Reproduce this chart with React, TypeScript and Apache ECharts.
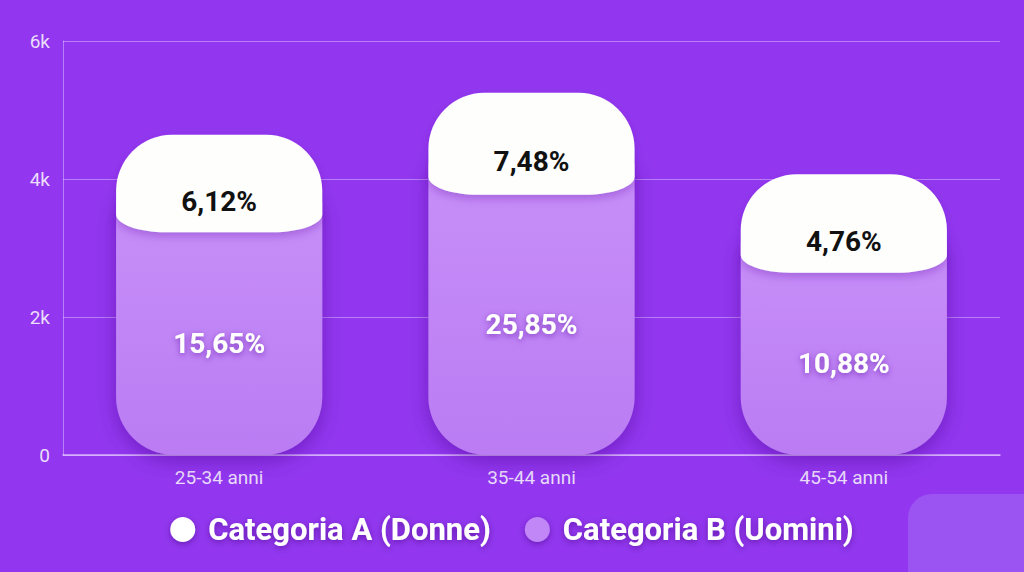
import React, { useEffect, useRef } from "react";
import * as echarts from "echarts";

const categories = ["25-34 anni", "35-44 anni", "45-54 anni"];
const valuesB = [3230, 3770, 2640];
const valuesA = [1410, 1480, 1430];
const labelsB = ["15,65%", "25,85%", "10,88%"];
const labelsA = ["6,12%", "7,48%", "4,76%"];
const yTicks = [0, 2000, 4000, 6000];

const K = 0.5523;

function purplePath(x0: number, x1: number, yt: number, y0: number, r: number) {
  return `M ${x0} ${yt} L ${x1} ${yt} L ${x1} ${y0 - r} A ${r} ${r} 0 0 1 ${x1 - r} ${y0} L ${x0 + r} ${y0} A ${r} ${r} 0 0 1 ${x0} ${y0 - r} Z`;
}

function whitePath(x0: number, x1: number, yTop: number, yB: number, R: number, w: number, h: number) {
  return [
    `M ${x0} ${yTop + R}`,
    `A ${R} ${R} 0 0 1 ${x0 + R} ${yTop}`,
    `L ${x1 - R} ${yTop}`,
    `A ${R} ${R} 0 0 1 ${x1} ${yTop + R}`,
    `L ${x1} ${yB - h}`,
    `C ${x1} ${yB - h + K * h} ${x1 - w + K * w} ${yB} ${x1 - w} ${yB}`,
    `L ${x0 + w} ${yB}`,
    `C ${x0 + w - K * w} ${yB} ${x0} ${yB - h + K * h} ${x0} ${yB - h}`,
    "Z",
  ].join(" ");
}

export default function App() {
  const ref = useRef<HTMLDivElement>(null);
  useEffect(() => {
    if (!ref.current) return;
    const chart = echarts.init(ref.current, undefined, { renderer: "svg" });
    const dataB = categories.map((_, i) => [i, valuesB[i], valuesA[i]]);
    const dataA = categories.map((_, i) => [i, valuesB[i], valuesA[i]]);
    const option: any = {
      animation: false,
      backgroundColor: "#9237EF",
      textStyle: { fontFamily: "Roboto" },
      grid: { left: 63, right: 24, top: 41, bottom: 117, containLabel: false },
      xAxis: {
        type: "category",
        data: categories,
        axisLine: { show: true, lineStyle: { color: "rgba(235,215,255,0.75)", width: 1.5 } },
        axisTick: { show: false },
        axisLabel: { color: "#EBDDFB", fontSize: 19, margin: 13, fontFamily: "Roboto" },
      },
      yAxis: {
        type: "value",
        min: yTicks[0],
        max: yTicks[yTicks.length - 1],
        interval: 2000,
        axisLine: { show: true, lineStyle: { color: "rgba(235,215,255,0.45)", width: 1 } },
        axisTick: { show: false },
        splitLine: { lineStyle: { color: "rgba(235,215,255,0.45)", width: 1 } },
        axisLabel: {
          color: "#EBDDFB",
          fontSize: 19,
          margin: 13,
          fontFamily: "Roboto",
          formatter: (v: number) => (v === 0 ? "0" : v / 1000 + "k"),
        },
      },
      legend: {
        left: "center",
        top: 509,
        icon: "circle",
        itemWidth: 25,
        itemHeight: 25,
        itemGap: 34,
        data: ["Categoria A (Donne)", "Categoria B (Uomini)"],
        itemStyle: { shadowBlur: 6, shadowColor: "rgba(60,0,120,0.5)", shadowOffsetY: 2 },
        textStyle: {
          color: "#ffffff",
          fontSize: 31,
          fontWeight: "bold",
          fontFamily: "Roboto",
          padding: [0, 0, 0, 8],
          textShadowColor: "rgba(60,0,120,0.55)",
          textShadowBlur: 6,
          textShadowOffsetY: 2,
        },
      },
      graphic: [
        {
          type: "rect",
          left: 908,
          top: 494,
          shape: { width: 140, height: 100, r: 24 },
          style: { fill: "#9B54F2" },
          z: 0,
        },
      ],
      series: [
        {
          name: "Categoria B (Uomini)",
          type: "custom",
          itemStyle: { color: "#C187F6" },
          encode: { x: 0, y: 1 },
          z: 2,
          data: dataB,
          renderItem: (params: any, api: any) => {
            const i = api.value(0);
            const b = api.value(1);
            const base = api.coord([i, 0]);
            const pB = api.coord([i, b]);
            const w = api.size([1, 0])[0] * 0.66;
            const x0 = base[0] - w / 2;
            const x1 = base[0] + w / 2;
            const y0 = base[1];
            const yt = pB[1] - 30;
            return {
              type: "group",
              children: [
                {
                  type: "path",
                  shape: { pathData: purplePath(x0, x1, yt, y0, 58) },
                  style: {
                    fill: new echarts.graphic.LinearGradient(0, 0, 0, 1, [
                      { offset: 0, color: "#C78FF8" },
                      { offset: 1, color: "#BB7CF3" },
                    ]),
                    shadowBlur: 20,
                    shadowColor: "rgba(70,0,140,0.45)",
                    shadowOffsetY: 6,
                  },
                },
                {
                  type: "text",
                  x: base[0],
                  y: (pB[1] + y0) / 2,
                  style: {
                    text: labelsB[i],
                    fill: "#ffffff",
                    font: "bold 28px Roboto",
                    align: "center",
                    verticalAlign: "middle",
                    textShadowColor: "rgba(80,0,150,0.55)",
                    textShadowBlur: 6,
                    textShadowOffsetY: 2,
                  },
                },
              ],
            };
          },
        },
        {
          name: "Categoria A (Donne)",
          type: "custom",
          itemStyle: { color: "#ffffff" },
          encode: { x: 0, y: 1 },
          z: 3,
          data: dataA,
          renderItem: (params: any, api: any) => {
            const i = api.value(0);
            const b = api.value(1);
            const a = api.value(2);
            const pB = api.coord([i, b]);
            const pT = api.coord([i, a + b]);
            const w = api.size([1, 0])[0] * 0.66;
            const x0 = pB[0] - w / 2;
            const x1 = pB[0] + w / 2;
            return {
              type: "group",
              children: [
                {
                  type: "path",
                  shape: { pathData: whitePath(x0, x1, pT[1], pB[1], 56, 50, 18) },
                  style: {
                    fill: "#FEFEFD",
                    shadowBlur: 10,
                    shadowColor: "rgba(90,0,160,0.3)",
                    shadowOffsetY: 4,
                  },
                },
                {
                  type: "text",
                  x: pB[0],
                  y: (pB[1] + pT[1]) / 2 + 18,
                  style: {
                    text: labelsA[i],
                    fill: "#111111",
                    font: "bold 28px Roboto",
                    align: "center",
                    verticalAlign: "middle",
                  },
                },
              ],
            };
          },
        },
      ],
    };
    chart.setOption(option);
    return () => chart.dispose();
  }, []);
  return (
    <div
      ref={ref}
      style={{ position: "fixed", left: 0, top: 0, width: 1024, height: 572 }}
    />
  );
}
